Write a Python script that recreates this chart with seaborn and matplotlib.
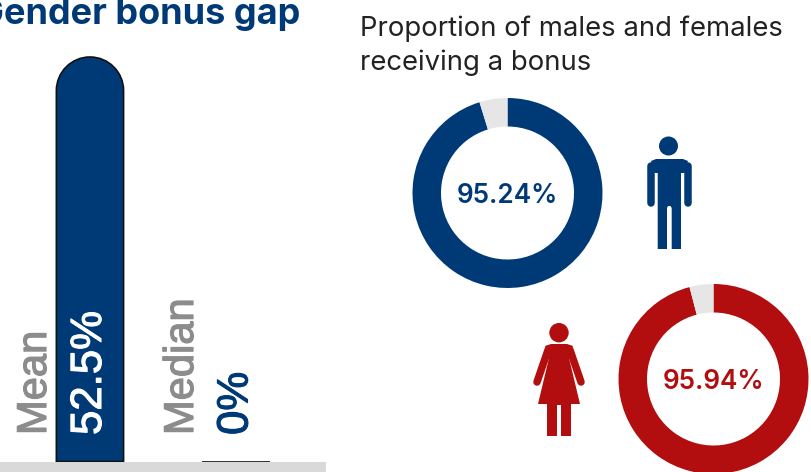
import pandas as pd
import numpy as np
import matplotlib.pyplot as plt
import seaborn as sns
import matplotlib.patheffects as pe
from matplotlib.patches import PathPatch, Polygon, Circle, Rectangle
from matplotlib.path import Path

W, H = 812, 472
NAVY = '#003A76'
RED = '#B20D0F'
GREY_TXT = '#8C8C8C'

gap_labels = ['Mean', 'Median']
gap_values = [52.5, 0]
gap_texts = ['52.5%', '0%']

donut_values = [95.24, 95.94]
donut_texts = ['95.24%', '95.94%']

sns.set_theme(style='white')
plt.rcParams['font.family'] = ['Inter', 'DejaVu Sans']


def px_axes(fig, x0, y0, x1, y1, **kw):
    # axes from pixel box, y counted from the top
    return fig.add_axes([x0 / W, 1 - y1 / H, (x1 - x0) / W, (y1 - y0) / H], **kw)


def rounded_top(x0, x1, h, ry):
    rx = (x1 - x0) / 2
    k = 0.5523
    verts = [(x0, 0), (x0, h - ry),
             (x0, h - ry + k * ry), (x0 + rx - k * rx, h), (x0 + rx, h),
             (x0 + rx + k * rx, h), (x1, h - ry + k * ry), (x1, h - ry),
             (x1, 0), (x0, 0)]
    codes = [Path.MOVETO, Path.LINETO,
             Path.CURVE4, Path.CURVE4, Path.CURVE4,
             Path.CURVE4, Path.CURVE4, Path.CURVE4,
             Path.LINETO, Path.CLOSEPOLY]
    return Path(verts, codes)


fig = plt.figure(figsize=(W / 100, H / 100), dpi=100)

# bars
ax = px_axes(fig, 0, 57, 326, 461.5)
df = pd.DataFrame({'label': gap_labels, 'value': gap_values})
sns.barplot(data=df, x='label', y='value', width=0.46, color=NAVY,
            edgecolor='#111111', linewidth=1.2, saturation=1, ax=ax)
ax.set_xlim(-0.616, 1.616)
ax.set_ylim(0, 52.5)
ax.axis('off')
y_scale = 52.5 / 404.5
x_scale = 326 / 2.232
for bar in list(ax.patches):
    if bar.get_height() > 0:
        x0, w, h = bar.get_x(), bar.get_width(), bar.get_height()
        ry = (w / 2) * x_scale * y_scale
        ax.add_patch(PathPatch(rounded_top(x0, x0 + w, h, ry), facecolor=NAVY,
                               edgecolor='#111111', linewidth=1.2, clip_on=False))
        bar.set_visible(False)
    else:
        bar.set_clip_on(False)

# donuts
boxes = [(412.5, 98, 602.5, 288), (618.5, 284, 808.5, 474)]
colors = [NAVY, RED]
for val, txt, box, col in zip(donut_values, donut_texts, boxes, colors):
    dax = px_axes(fig, *box)
    dax.pie([val, 100 - val], colors=[col, '#E6E6E6'], startangle=90, counterclock=False,
            radius=1, wedgeprops={'width': 0.3, 'linewidth': 0})
    dax.set_xlim(-1, 1)
    dax.set_ylim(-1, 1)
    dax.text(0, -0.03, txt, ha='center', va='center', color=col, fontsize=18.8,
             fontweight='semibold')

# overlay in pixel coordinates for text and icons
ov = px_axes(fig, 0, 0, W, H, zorder=5)
ov.set_xlim(0, W)
ov.set_ylim(H, 0)
ov.axis('off')
ov.patch.set_alpha(0)

ov.add_patch(Rectangle((0, 462), 326, 10, color='#D9D9D9', lw=0))

ov.text(300, 24, 'Gender bonus gap', ha='right', va='baseline', color=NAVY, fontsize=26,
        fontweight='bold')
ov.text(360, 36, 'Proportion of males and females', color='#222222', fontsize=19.8, va='baseline')
ov.text(360, 70, 'receiving a bonus', color='#222222', fontsize=19.8, va='baseline')

for x, lab in zip([46, 193], gap_labels):
    ov.text(x, 435, lab, rotation=90, ha='left', va='baseline', rotation_mode='anchor',
            color=GREY_TXT, fontsize=30, family='Liberation Sans',
            path_effects=[pe.withStroke(linewidth=0.9, foreground=GREY_TXT)])
for x, txt, col in zip([101, 247.5], gap_texts, ['white', NAVY]):
    ov.text(x, 435, txt, rotation=90, ha='left', va='baseline', rotation_mode='anchor',
            color=col, fontsize=31.5, family='Liberation Sans',
            path_effects=[pe.withStroke(linewidth=0.8, foreground=col)])

# male icon
ov.add_patch(Circle((668.5, 146), 9.5, color=NAVY, lw=0))
male = [(656, 159), (683, 159), (688, 161), (684.5, 173),
        (681, 173), (681, 249), (671.7, 249), (671.7, 208), (670.5, 206), (668, 206), (667, 208),
        (667, 249), (657.7, 249), (657.7, 173), (654.5, 173), (651, 161)]
ov.add_patch(Polygon(male, closed=True, color=NAVY, lw=0))
for x in [650.8, 688.2]:
    ov.plot([x, x], [166, 202.5], color=NAVY, lw=5.4, solid_capstyle='round')

# female icon
ov.add_patch(Circle((559, 332.7), 9.7, color=RED, lw=0))
female = [(551, 344), (567, 344), (573, 346), (569, 358), (580, 404), (571, 404), (571, 436),
          (561, 436), (561, 405), (557, 405), (557, 436), (547, 436), (547, 404), (538, 404),
          (549, 358), (545, 346)]
ov.add_patch(Polygon(female, closed=True, color=RED, lw=0))
ov.plot([548, 537], [350, 382], color=RED, lw=5.4, solid_capstyle='round')
ov.plot([570, 581], [350, 382], color=RED, lw=5.4, solid_capstyle='round')

fig.savefig('out.png', dpi=100, facecolor='white')
